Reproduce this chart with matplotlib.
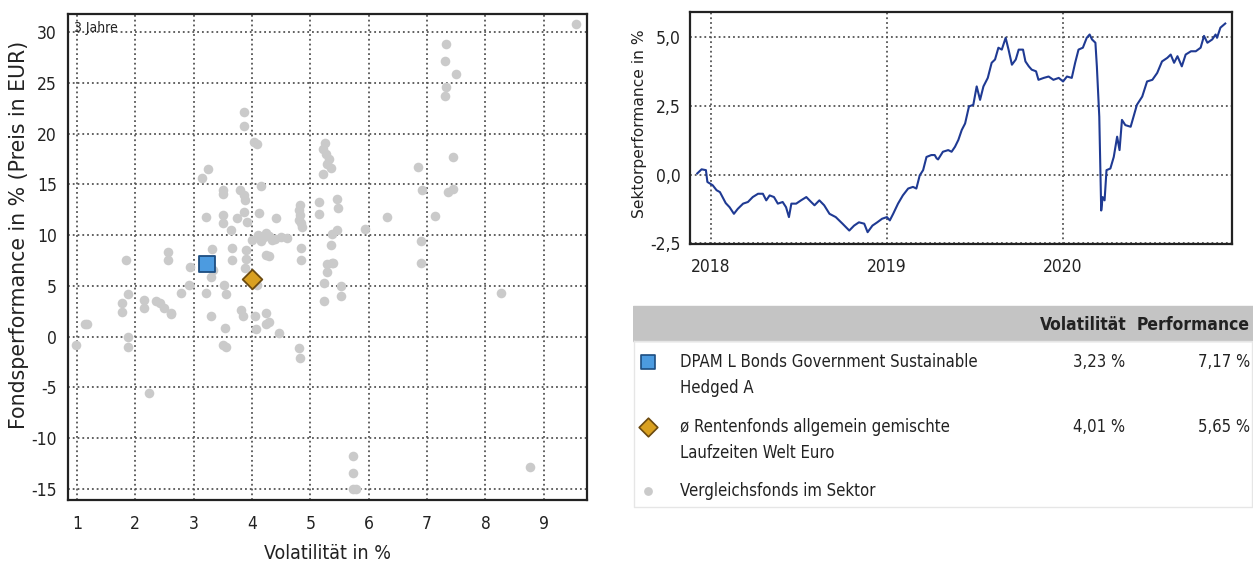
import matplotlib
matplotlib.use("Agg")
import matplotlib.pyplot as plt
import matplotlib.dates as mdates
import matplotlib.font_manager as fm
import pandas as pd
from matplotlib.ticker import FuncFormatter

# --- data ------------------------------------------------------------------
peer_vol = [9.55, 7.33, 7.31, 7.50, 7.33, 7.31, 3.87, 3.87, 4.03, 4.08,
            5.25, 5.22, 5.27, 5.32, 5.29, 5.36, 5.22, 7.45, 6.85, 3.24,
            3.15, 4.15, 3.50, 3.50, 3.79, 3.86, 3.89, 5.15, 5.15, 5.45,
            5.47, 4.82, 4.80, 4.82, 4.80, 4.85, 3.22, 3.50, 3.50, 3.75,
            3.87, 3.91, 3.65, 4.12, 4.41, 6.31, 7.14, 5.94, 5.45, 5.38,
            5.36, 4.10, 4.20, 4.30, 4.40, 4.50, 4.60, 4.00, 4.25, 4.15,
            4.35, 1.85, 2.57, 2.57, 2.94, 3.33, 3.31, 3.66, 3.66, 3.90,
            3.90, 4.25, 4.30, 4.84, 4.84, 3.88, 3.30, 2.93, 2.78, 3.22,
            3.52, 3.55, 4.08, 1.87, 1.78, 1.78, 2.16, 2.16, 2.36, 2.43,
            2.50, 2.62, 1.14, 1.18, 0.98, 1.87, 1.87, 2.23, 2.61, 3.30,
            3.81, 3.85, 4.05, 4.24, 4.30, 4.24, 4.07, 4.47, 3.54, 3.50,
            3.56, 4.80, 4.82, 5.38, 5.28, 5.24, 5.52, 5.24, 5.52, 5.28,
            5.39, 6.90, 6.90, 8.27, 5.73, 5.73, 5.73, 5.78, 8.76, 6.91,
            7.36, 7.45, 4.84]
peer_perf = [30.8, 28.8, 27.2, 25.9, 24.6, 23.7, 22.1, 20.8, 19.2, 19.0,
             19.1, 18.5, 18.0, 17.5, 17.0, 16.6, 16.0, 17.7, 16.7, 16.5,
             15.6, 14.8, 14.5, 14.1, 14.5, 14.0, 13.5, 13.3, 12.1, 13.6,
             12.7, 13.0, 12.5, 12.0, 11.5, 10.8, 11.8, 12.0, 11.2, 11.7,
             12.3, 11.3, 10.5, 12.2, 11.7, 11.8, 11.9, 10.6, 10.5, 10.1,
             9.0, 10.0, 9.8, 9.9, 9.6, 9.8, 9.7, 9.5, 10.2, 9.4,
             9.5, 7.6, 8.3, 7.6, 6.9, 6.6, 8.6, 8.7, 7.6, 8.5,
             7.7, 8.0, 7.9, 8.7, 7.6, 6.8, 5.9, 5.1, 4.3, 4.3,
             5.1, 4.2, 5.1, 4.2, 3.3, 2.4, 3.6, 2.8, 3.5, 3.3,
             2.8, 2.3, 1.2, 1.2, -0.8, 0.0, -1.0, -5.6, 2.2, 2.0,
             2.6, 2.0, 2.0, 2.3, 1.4, 1.2, 0.8, 0.4, 0.9, -0.8,
             -1.0, -1.1, -2.1, 7.3, 6.4, 5.3, 5.0, 3.5, 4.0, 7.2,
             7.3, 9.4, 7.3, 4.3, -11.8, -13.4, -15.0, -15.0, -12.8, 14.5,
             14.3, 14.6, 11.2]

fund_name = "DPAM L Bonds Government Sustainable\nHedged A"
fund_vol, fund_perf = 3.23, 7.17
sector_name = "ø Rentenfonds allgemein gemischte\nLaufzeiten Welt Euro"
sector_vol, sector_perf = 4.01, 5.65
peer_name = "Vergleichsfonds im Sektor"

sector_dates = ["2017-12-04", "2017-12-13", "2017-12-22", "2017-12-25", "2018-01-05",
                "2018-01-13", "2018-01-20", "2018-02-01", "2018-02-09", "2018-02-18",
                "2018-02-26", "2018-03-09", "2018-03-19", "2018-03-29", "2018-04-09",
                "2018-04-19", "2018-04-26", "2018-05-03", "2018-05-12", "2018-05-20",
                "2018-05-30", "2018-06-06", "2018-06-12", "2018-06-17", "2018-06-27",
                "2018-07-07", "2018-07-18", "2018-07-28", "2018-08-04", "2018-08-14",
                "2018-08-24", "2018-09-04", "2018-09-17", "2018-10-01", "2018-10-15",
                "2018-10-25", "2018-11-04", "2018-11-15", "2018-11-22", "2018-12-02",
                "2018-12-12", "2018-12-22", "2019-01-01", "2019-01-07", "2019-01-14",
                "2019-01-24", "2019-02-03", "2019-02-14", "2019-02-24", "2019-03-03",
                "2019-03-10", "2019-03-17", "2019-03-24", "2019-04-03", "2019-04-10",
                "2019-04-14", "2019-04-17", "2019-04-27", "2019-05-08", "2019-05-15",
                "2019-05-22", "2019-05-29", "2019-06-05", "2019-06-12", "2019-06-20",
                "2019-06-29", "2019-07-06", "2019-07-13", "2019-07-20", "2019-07-29",
                "2019-08-06", "2019-08-13", "2019-08-20", "2019-08-27", "2019-09-04",
                "2019-09-10", "2019-09-17", "2019-09-25", "2019-10-01", "2019-10-10",
                "2019-10-15", "2019-10-22", "2019-10-28", "2019-11-06", "2019-11-11",
                "2019-11-22", "2019-12-02", "2019-12-12", "2019-12-23", "2020-01-01",
                "2020-01-09", "2020-01-19", "2020-01-26", "2020-02-02", "2020-02-11",
                "2020-02-19", "2020-02-25", "2020-03-01", "2020-03-08", "2020-03-11",
                "2020-03-16", "2020-03-20", "2020-03-23", "2020-03-27", "2020-03-31",
                "2020-04-08", "2020-04-15", "2020-04-22", "2020-04-27", "2020-05-02",
                "2020-05-09", "2020-05-20", "2020-05-27", "2020-06-02", "2020-06-13",
                "2020-06-23", "2020-07-04", "2020-07-14", "2020-07-24", "2020-08-04",
                "2020-08-11", "2020-08-18", "2020-08-25", "2020-09-03", "2020-09-11",
                "2020-09-22", "2020-10-02", "2020-10-12", "2020-10-19", "2020-10-26",
                "2020-11-05", "2020-11-12", "2020-11-15", "2020-11-22", "2020-12-02"]
sector_perf_line = [0.04, 0.19, 0.16, -0.27, -0.39, -0.57, -0.64, -1.04, -1.19, -1.43,
                    -1.25, -1.06, -1.00, -0.82, -0.70, -0.70, -0.94, -0.76, -0.82, -1.06,
                    -1.00, -1.19, -1.55, -1.06, -1.06, -0.94, -0.82, -1.00, -1.12, -0.94,
                    -1.12, -1.43, -1.55, -1.79, -2.04, -1.86, -1.74, -1.79, -2.10, -1.86,
                    -1.74, -1.61, -1.55, -1.67, -1.43, -1.06, -0.76, -0.51, -0.45, -0.51,
                    -0.03, 0.16, 0.64, 0.71, 0.71, 0.59, 0.55, 0.83, 0.89, 0.83,
                    1.01, 1.26, 1.62, 1.86, 2.48, 2.54, 3.21, 2.72, 3.21, 3.52,
                    4.07, 4.19, 4.62, 4.55, 4.98, 4.55, 4.00, 4.19, 4.55, 4.55,
                    4.12, 3.94, 3.82, 3.76, 3.45, 3.52, 3.57, 3.45, 3.52, 3.39,
                    3.57, 3.52, 4.07, 4.55, 4.62, 4.98, 5.10, 4.92, 4.80, 3.94,
                    2.11, -1.31, -0.82, -0.94, 0.16, 0.22, 0.64, 1.38, 0.89, 1.99,
                    1.80, 1.74, 2.17, 2.54, 2.84, 3.39, 3.45, 3.70, 4.12, 4.25,
                    4.37, 4.07, 4.31, 3.94, 4.37, 4.49, 4.49, 4.62, 5.05, 4.80,
                    4.92, 5.10, 4.98, 5.35, 5.50]

# --- fonts: look for a narrow face, the reference text is condensed ----------
narrow_font = None
for f in fm.fontManager.ttflist:
    if "Narrow" in f.name or "Condensed" in f.name or f.stretch in ("condensed", "semi-condensed"):
        narrow_font = f
        break
if narrow_font is not None:
    narrow = dict(family=[narrow_font.name, "DejaVu Sans"], fontstretch=narrow_font.stretch)
else:
    narrow = dict(family=["Roboto", "DejaVu Sans"])
# the rotated axis titles run long in the reference, a wide face fits them best
wide = dict(family=["DejaVu Sans"])
plt.rcParams["axes.unicode_minus"] = False

grid_kw = dict(color="#555555", linestyle=":", linewidth=1.3)
ink = "#222222"

W, H = 1253, 565
fig = plt.figure(figsize=(W / 100, H / 100), dpi=100)


def box(x0, y0, x1, y1):
    # pixel box -> figure fraction rect
    return [x0 / W, 1 - y1 / H, (x1 - x0) / W, (y1 - y0) / H]


def style_ticks(axis):
    for lab in axis.get_xticklabels() + axis.get_yticklabels():
        lab.set(fontsize=12.5, color=ink, **narrow)
    for s in axis.spines.values():
        s.set_linewidth(1.6)
        s.set_color(ink)


# --- scatter: risk / return --------------------------------------------------
ax = fig.add_axes(box(68, 14, 587, 500))
ax.scatter(peer_vol, peer_perf, s=48, color="#cacaca", linewidths=0, zorder=3)
ax.scatter([fund_vol], [fund_perf], marker="s", s=145, color="#4c9be0",
           edgecolors="#1d4d80", linewidths=1.3, zorder=5)
ax.scatter([sector_vol], [sector_perf], marker="D", s=100, color="#d9a020",
           edgecolors="#6b4a10", linewidths=1.3, zorder=5)
ax.set_xlim(0.85, 9.74)
ax.set_ylim(-16.1, 31.8)
ax.set_xticks(range(1, 10))
ax.set_yticks(range(-15, 31, 5))
ax.grid(True, **grid_kw)
ax.set_axisbelow(True)
ax.tick_params(axis="x", length=0, pad=11)
ax.tick_params(axis="y", length=0, pad=8)
style_ticks(ax)
ax.set_xlabel("Volatilität in %", fontsize=14, color=ink, labelpad=8, **narrow)
ax.set_ylabel("Fondsperformance in % (Preis in EUR)", fontsize=14.8, color=ink, **wide)
ax.yaxis.set_label_coords(-0.076, 0.545)
ax.text(0.012, 0.985, "3 Jahre", transform=ax.transAxes, ha="left", va="top",
        fontsize=10, color=ink, **narrow)

# --- line: sector performance --------------------------------------------------
lx = fig.add_axes(box(690, 12, 1232, 244))
dates = pd.to_datetime(sector_dates)
lx.plot(dates, sector_perf_line, color="#1f3a93", linewidth=1.5, zorder=3)
lx.set_xlim(pd.Timestamp("2017-11-19"), pd.Timestamp("2020-12-16"))
lx.set_ylim(-2.53, 5.92)
lx.set_yticks([-2.5, 0, 2.5, 5])
lx.yaxis.set_major_formatter(FuncFormatter(lambda v, p: f"{v:.1f}".replace(".", ",")))
lx.xaxis.set_major_locator(mdates.YearLocator())
lx.xaxis.set_major_formatter(mdates.DateFormatter("%Y"))
lx.grid(True, **grid_kw)
lx.tick_params(axis="x", length=0, pad=10)
lx.tick_params(axis="y", length=0, pad=7)
style_ticks(lx)
lx.set_ylabel("Sektorperformance in %", fontsize=11.2, color=ink, **wide)
lx.yaxis.set_label_coords(-0.079, 0.52)

# --- legend table ------------------------------------------------------------
tx = fig.add_axes(box(633, 305, 1253, 510))
tx.set_xlim(633, 1253)
tx.set_ylim(510, 305)
tx.axis("off")
tx.axhspan(306, 341, color="#c4c4c4", zorder=0)
tx.plot([634, 634, 1252, 1252, 634], [341, 507, 507, 341, 341], color="#e6e6e6", lw=1)
tx.text(1127, 325, "Volatilität", ha="right", va="center", fontsize=12.5,
        fontweight="bold", color=ink, **narrow)
tx.text(1250, 325, "Performance", ha="right", va="center", fontsize=12.5,
        fontweight="bold", color=ink, **narrow)

rows = [
    (fund_name, fund_vol, fund_perf, 362, dict(marker="s", s=110, color="#4c9be0",
                                                edgecolors="#1d4d80", linewidths=1.2)),
    (sector_name, sector_vol, sector_perf, 427, dict(marker="D", s=90, color="#d9a020",
                                                      edgecolors="#6b4a10", linewidths=1.2)),
    (peer_name, None, None, 491, dict(marker="o", s=40, color="#cacaca", linewidths=0)),
]
for name, vol, perf, yrow, mk in rows:
    tx.scatter([648], [yrow], clip_on=False, **mk)
    tx.text(680, yrow - 9, name, ha="left", va="top", fontsize=12, color=ink,
            linespacing=1.6, **narrow)
    if vol is not None:
        tx.text(1125, yrow, f"{vol:.2f} %".replace(".", ","), ha="right", va="center",
                fontsize=12, color=ink, **narrow)
        tx.text(1250, yrow, f"{perf:.2f} %".replace(".", ","), ha="right", va="center",
                fontsize=12, color=ink, **narrow)

fig.savefig("out.png", dpi=100, facecolor="white")
